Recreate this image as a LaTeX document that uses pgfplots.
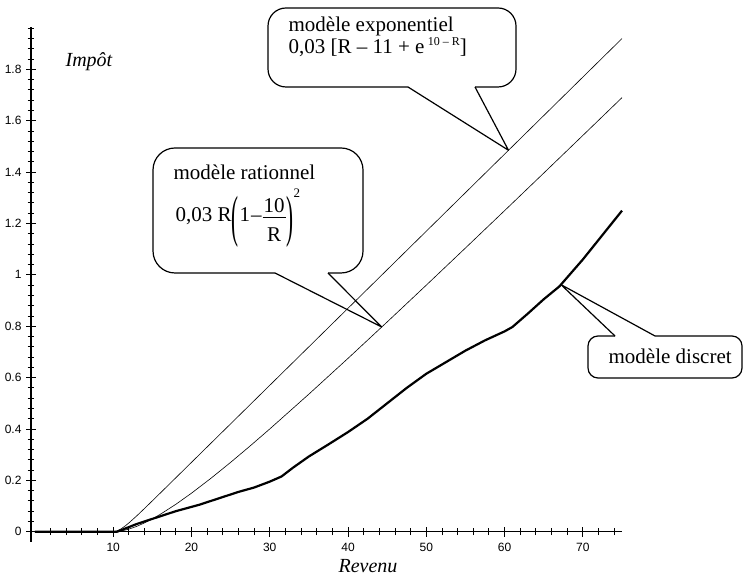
\documentclass[border=0pt]{standalone}
\usepackage{amsmath}
\usepackage{graphicx}
\usepackage{fontspec}
\setmainfont{Liberation Serif}
\newfontfamily\arialf{Liberation Sans}
\usepackage{pgfplots}
\pgfplotsset{compat=1.18}
\begin{document}
\begin{tikzpicture}[x=1pt,y=1pt]
\path[use as bounding box] (0,0) rectangle (743,577);
\begin{axis}[
  at={(31pt,35pt)}, anchor=south west,
  scale only axis, width=591pt, height=515pt,
  xmin=-0.5, xmax=75, ymin=-0.04, ymax=1.965,
  axis x line*=middle, axis y line*=left,
  every inner x axis line/.style={-},
  every outer y axis line/.style={-},
  axis line style={line width=1.1pt,-},
  xtick={10,20,30,40,50,60,70},
  minor xtick={2,4,6,8,12,14,16,18,22,24,26,28,32,34,36,38,42,44,46,48,52,54,56,58,62,64,66,68,72,74},
  ytick={0,0.2,0.4,0.6,0.8,1,1.2,1.4,1.6,1.8},
  yticklabels={0,0.2,0.4,0.6,0.8,1,1.2,1.4,1.6,1.8},
  minor ytick={0.04,0.08,0.12,0.16,0.24,0.28,0.32,0.36,0.44,0.48,0.52,0.56,0.64,0.68,0.72,0.76,0.84,0.88,0.92,0.96,1.04,1.08,1.12,1.16,1.24,1.28,1.32,1.36,1.44,1.48,1.52,1.56,1.64,1.68,1.72,1.76,1.84,1.88,1.92,1.96},
  tick align=center,
  major tick length=10pt, minor tick length=7pt,
  every tick/.style={black, line width=0.9pt},
  /pgf/number format/assume math mode=true,
  tick label style={font=\arialf\fontsize{12}{13}\selectfont, black},
  xticklabel style={yshift=-3pt},
  yticklabel style={xshift=-1pt},
  clip=false,
]
% modele exponentiel
\addplot[black, line width=0.6pt] coordinates {
(0,0) (10,0) (10.5,0.0032) (11,0.01104) (11.5,0.02169) (12,0.03406) (13,0.06149)
(14,0.09055) (15,0.1202) (16,0.15007) (18,0.21001) (20,0.27) (30,0.57) (40,0.87)
(50,1.17) (60,1.47) (70,1.77) (75,1.92)};
% modele rationnel
\addplot[black, line width=0.6pt] coordinates {
(0,0) (10,0) (11,0.00273) (12,0.01) (13,0.02077) (14,0.03429) (15,0.05) (16,0.0675)
(18,0.10667) (20,0.15) (22.5,0.20833) (25,0.27) (27.5,0.33409) (30,0.4) (35,0.53571)
(40,0.675) (45,0.81667) (50,0.96) (55,1.10455) (60,1.25) (65,1.39615) (70,1.54286) (75,1.69)};
% modele discret
\addplot[black, line width=2.2pt, line join=round] coordinates {
(0,0) (10.5,0) (11,0.006) (12,0.018) (13,0.03) (15,0.05) (18,0.08) (21,0.105) (24,0.135)
(26,0.155) (28,0.172) (30,0.195) (31.5,0.215) (33,0.25) (35,0.293) (37.5,0.34) (40,0.388)
(42.5,0.44) (45,0.50) (47.5,0.56) (50,0.615) (52.5,0.66) (55,0.705) (57.5,0.745) (60,0.78)
(61,0.797) (63,0.85) (65,0.905) (67,0.955) (70,1.06) (72.5,1.155) (75,1.25)};
\coordinate (tE) at (axis cs:60.5,1.485);
\coordinate (tR) at (axis cs:44.3,0.797);
\coordinate (tD) at (axis cs:67.2,0.962);
\end{axis}
\begin{scope}[shift={(0,577)}, yscale=-1, line width=1.2pt, line join=round]
  % exponentiel callout
  \draw[rounded corners=18pt] (475,87) -- (516,87) -- (516,8) -- (268,8) -- (268,87) -- (408,87);
  \draw (408,87) -- (tE) -- (475,87);
  % rationnel callout
  \draw[rounded corners=22pt] (328,273) -- (363,273) -- (363,148) -- (153,148) -- (153,273) -- (275,273);
  \draw (275,273) -- (tR) -- (328,273);
  % discret callout
  \draw[rounded corners=10pt] (615,336) -- (588,336) -- (588,378) -- (742,378) -- (742,336) -- (655,336);
  \draw (655,336) -- (tD) -- (615,336);
  % texts
  \node[anchor=north west, inner sep=0pt, align=left, font=\fontsize{21}{19}\selectfont] at (288,16.5)
    {modèle exponentiel\\0,03 [R – 11 + e\,\raisebox{0.42em}{\fontsize{12}{12}\selectfont 10 – R}]};
  \node[anchor=base west, inner sep=0pt, font=\fontsize{21}{21}\selectfont] at (173,180) {modèle rationnel};
  \node[anchor=base west, inner sep=0pt, font=\fontsize{21}{21}\selectfont] at (175,222)
    {0,03 R\raisebox{-14pt}{\scalebox{1}[2.7]{(}}\kern1pt 1\kern1pt–\kern1pt%
     \rlap{\raisebox{9pt}{\makebox[23pt]{10}}}%
     \rlap{\raisebox{-20pt}{\makebox[23pt]{R}}}%
     \rlap{\raisebox{4.5pt}{\rule{23pt}{0.8pt}}}\hspace{23pt}%
     \kern1pt\raisebox{-14pt}{\scalebox{1}[2.7]{)}}\raisebox{24pt}{\fontsize{13}{13}\selectfont 2}};
  \node[anchor=base west, inner sep=0pt, font=\fontsize{21}{21}\selectfont] at (608,364) {modèle discret};
  \node[anchor=base west, inner sep=0pt, font=\itshape\fontsize{20}{20}\selectfont] at (65,67) {Impôt};
  \node[anchor=base west, inner sep=0pt, font=\itshape\fontsize{20}{20}\selectfont] at (338,573) {Revenu};
\end{scope}
\end{tikzpicture}
\end{document}
